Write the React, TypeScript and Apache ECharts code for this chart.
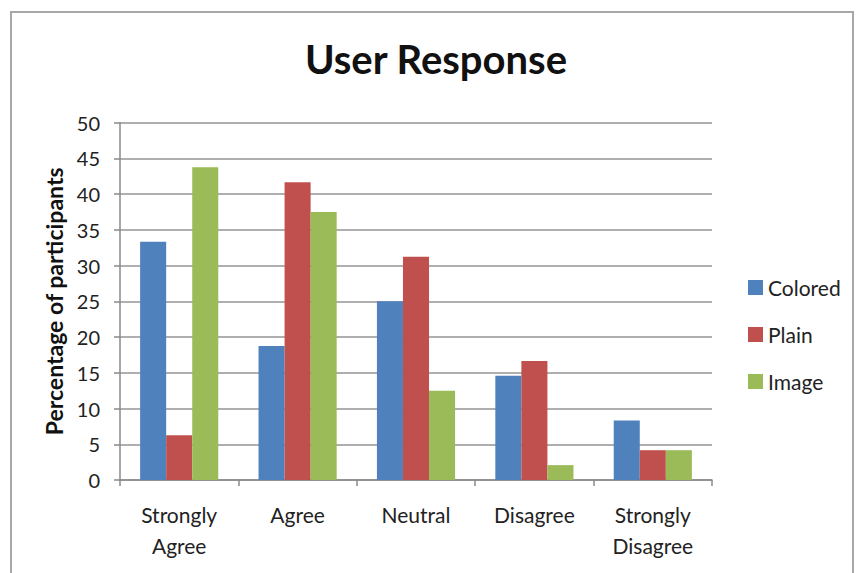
import React, { useEffect, useRef } from "react";
import * as echarts from "echarts";

// Survey responses, percent of participants per answer
const categories = ["Strongly\nAgree", "Agree", "Neutral", "Disagree", "Strongly\nDisagree"];
const seriesNames = ["Colored", "Plain", "Image"];
const colored = [33.33, 18.75, 25.0, 14.58, 8.33];
const plain = [6.25, 41.67, 31.25, 16.67, 4.17];
const image = [43.75, 37.5, 12.5, 2.08, 4.17];
const colors = ["#4F81BD", "#C0504D", "#9BBB59"];

const FONT = "Lato, 'Open Sans', sans-serif";

export default function App() {
  const ref = useRef<HTMLDivElement>(null);

  useEffect(() => {
    document.body.style.margin = "0";
    if (!ref.current) return;
    const chart = echarts.init(ref.current, undefined, { renderer: "svg" });
    const values = [colored, plain, image];
    chart.setOption({
      animation: false,
      backgroundColor: "#ffffff",
      textStyle: { fontFamily: FONT },
      title: {
        text: "User Response",
        left: 431,
        top: 34,
        textAlign: "center",
        textStyle: { fontFamily: FONT, fontSize: 40, fontWeight: "bold", color: "#111" },
      },
      graphic: [
        {
          type: "rect",
          shape: { x: 11, y: 12, width: 842, height: 620 },
          style: { fill: "none", stroke: "#a8a8a8", lineWidth: 2 },
          silent: true,
        },
      ],
      legend: {
        orient: "vertical",
        left: 743,
        top: 272,
        itemWidth: 15,
        itemHeight: 15,
        itemGap: 26,
        icon: "rect",
        textStyle: { fontFamily: FONT, fontSize: 21, color: "#222" },
        data: seriesNames,
      },
      grid: { left: 120, right: 144, top: 122.7, bottom: 93, containLabel: false },
      xAxis: {
        type: "category",
        data: categories,
        axisLine: { lineStyle: { color: "#8a8a8a", width: 1.5 } },
        axisTick: { show: true, length: 6, lineStyle: { color: "#8a8a8a", width: 1.5 } },
        axisLabel: {
          fontFamily: FONT,
          fontSize: 21,
          color: "#222",
          margin: 19,
          lineHeight: 31,
          interval: 0,
        },
      },
      yAxis: {
        type: "value",
        min: 0,
        max: 50,
        interval: 5,
        name: "Percentage of participants",
        nameLocation: "middle",
        nameGap: 55,
        nameTextStyle: { fontFamily: FONT, fontSize: 23, fontWeight: "bold", color: "#111" },
        axisLine: { show: true, lineStyle: { color: "#8a8a8a", width: 1.5 } },
        axisTick: { show: true, length: 6, lineStyle: { color: "#8a8a8a", width: 1.5 } },
        axisLabel: { fontFamily: FONT, fontSize: 20, color: "#222", margin: 20 },
        splitLine: { show: true, lineStyle: { color: "#959595", width: 1.5 } },
      },
      series: seriesNames.map((name, i) => ({
        name,
        type: "bar",
        data: values[i],
        barGap: "0%",
        barCategoryGap: "34%",
        itemStyle: { color: colors[i] },
      })),
    });
    return () => chart.dispose();
  }, []);

  return <div ref={ref} style={{ width: 856, height: 573 }} />;
}
